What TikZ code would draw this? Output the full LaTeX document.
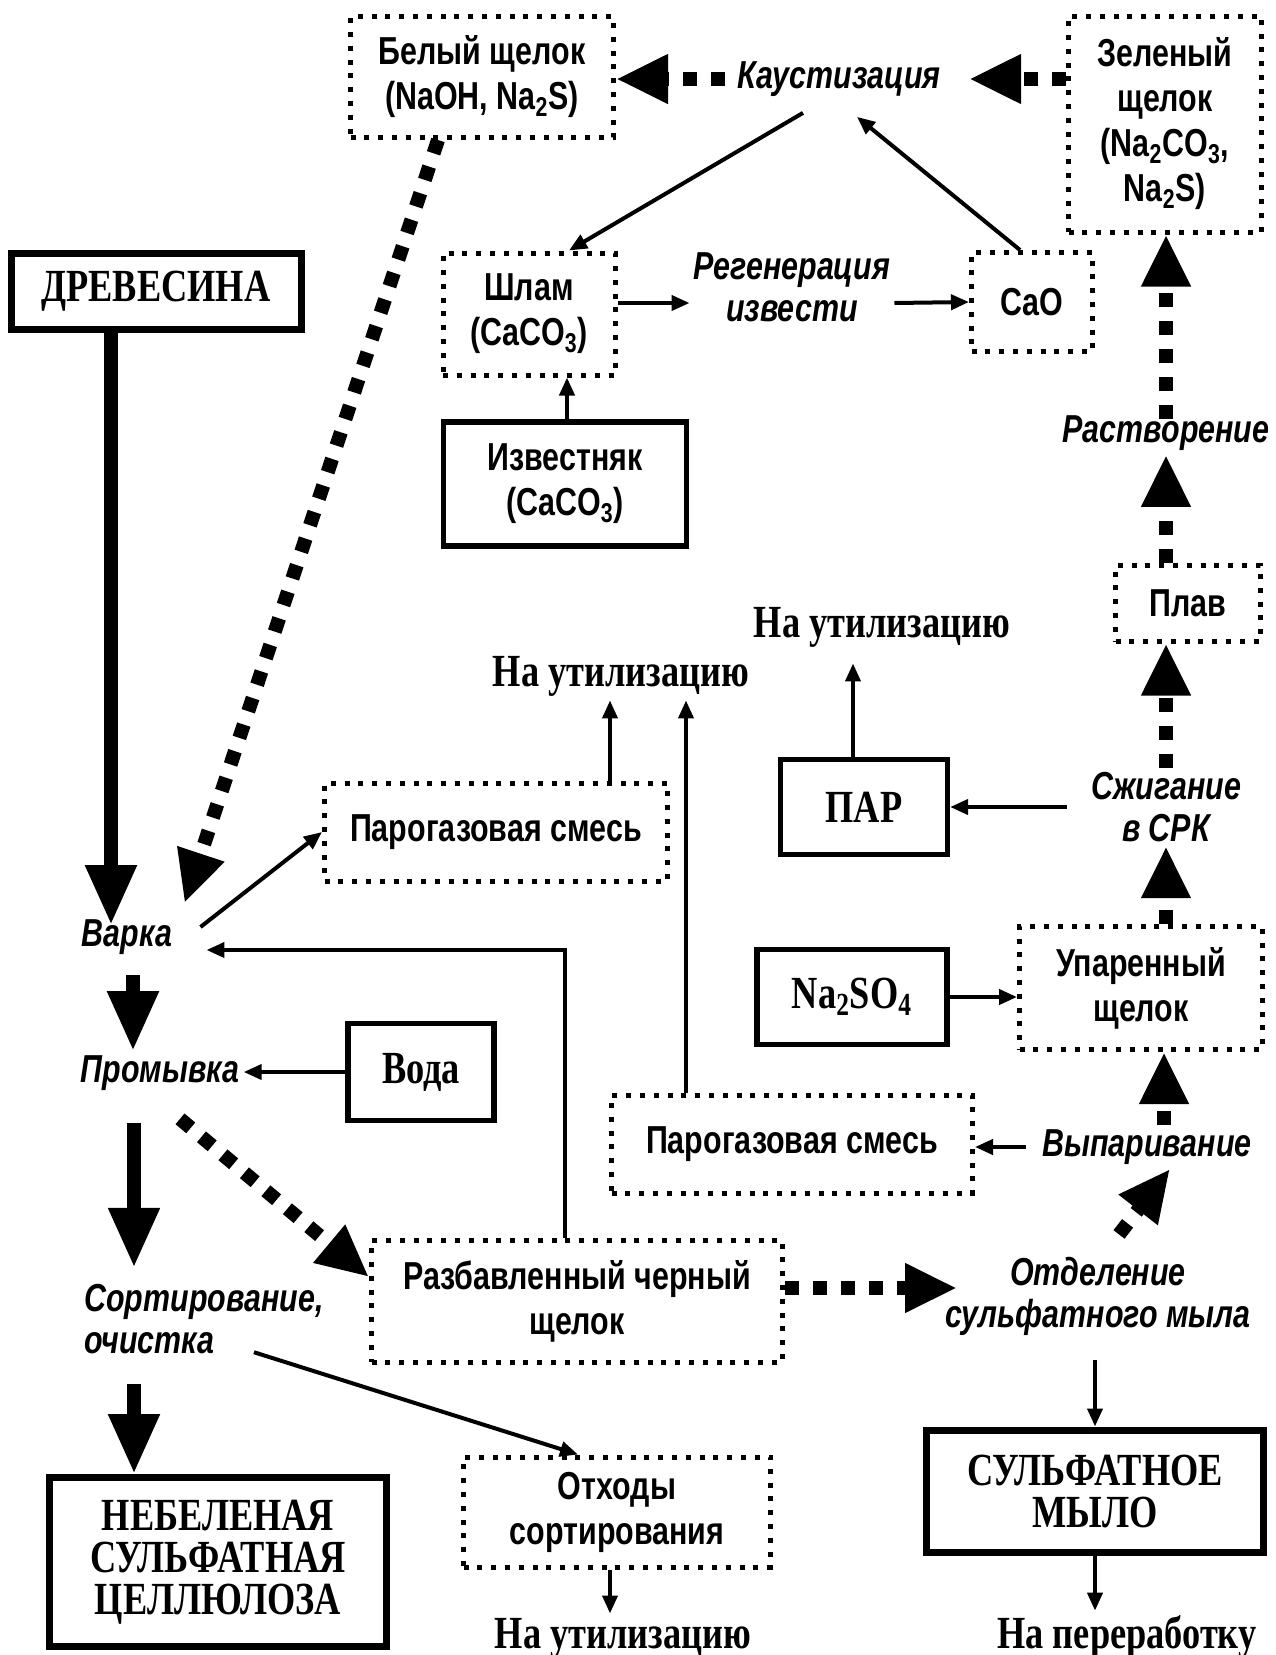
\documentclass[tikz,border=0pt]{standalone}
\usepackage{fontspec}
\setmainfont{Liberation Serif}[FakeStretch=0.79]
\setsansfont{Liberation Sans}[FakeStretch=0.78]
\usepackage{tikz}
\usetikzlibrary{arrows.meta}

\tikzset{
  dotbox/.style={draw, line width=2.5pt, dash pattern=on 2.5pt off 4.4pt, inner sep=0pt, align=center,
    font=\sffamily\bfseries\fontsize{19.5}{22.5}\selectfont},
  linebox/.style={draw, line width=2.6pt, inner sep=0pt, align=center,
    font=\rmfamily\bfseries\fontsize{23}{21}\selectfont},
  mainbox/.style={linebox, line width=3.5pt},
  proc/.style={inner sep=2pt, align=center, font=\sffamily\bfseries\itshape\fontsize{19.5}{21}\selectfont},
  dest/.style={inner sep=2pt, font=\rmfamily\bfseries\fontsize{23}{21}\selectfont},
  thinarrow/.style={line width=2pt, -{Triangle[length=9pt,width=7.5pt]}},
  bigarrow/.style={line width=7pt, -{Triangle[length=30pt,width=24pt]}},
  dotarrow/.style={line width=7pt, dash pattern=on 7pt off 7pt, -{Triangle[length=26pt,width=23pt]}}
}

\begin{document}
\begin{tikzpicture}[x=0.5pt,y=-0.5pt]
    \useasboundingbox (0,0) rectangle (1275,1655);

    % Liquor regeneration at the top
    \node[dotbox, minimum width=131.5pt, minimum height=60.5pt] (white) at (482,77) {Белый щелок\\(NaOH, Na\textsubscript{2}S)};
    \node[proc] (kaust) at (839,79) {Каустизация};
    \node[dotbox, minimum width=96.5pt, minimum height=108pt] (green) at (1165,124) {Зеленый\\щелок\\(Na\textsubscript{2}CO\textsubscript{3},\\Na\textsubscript{2}S)};
    \node[dotbox, minimum width=86pt, minimum height=61pt] (shlam) at (529,314) {Шлам\\(CaCO\textsubscript{3})};
    \node[proc] (regen) at (792,287) {Регенерация\\извести};
    \node[dotbox, minimum width=60.5pt, minimum height=49.5pt] (cao) at (1032,302) {CaO};
    \node[linebox, font=\sffamily\bfseries\fontsize{19.5}{22.5}\selectfont, minimum width=121.5pt, minimum height=62pt] (izv) at (565,484) {Известняк\\(CaCO\textsubscript{3})};

    % Wood and cooking
    \node[mainbox, minimum width=145pt, minimum height=38pt] (wood) at (156,291) {ДРЕВЕСИНА};
    \node[proc] (varka) at (127,937) {Варка};
    \node[dotbox, minimum width=171.5pt, minimum height=49pt] (gas1) at (496,832) {Парогазовая смесь};
    \node[dest] (util1) at (621,676) {На утилизацию};
    \node[dest] (util2) at (882,627) {На утилизацию};
    \node[linebox, minimum width=83.5pt, minimum height=47.5pt] (par) at (864,807) {ПАР};

    % Right column
    \node[proc] (burn) at (1166,807) {Сжигание\\в СРК};
    \node[dotbox, minimum width=72.5pt, minimum height=38pt] (plav) at (1188,603) {Плав};
    \node[proc] (dissolve) at (1166,433) {Растворение};
    \node[dotbox, minimum width=121.5pt, minimum height=61.5pt] (upar) at (1141,988) {Упаренный\\щелок};
    \node[linebox, minimum width=95pt, minimum height=47.5pt] (nasulf) at (852,997) {Na\textsubscript{2}SO\textsubscript{4}};
    \node[proc] (vypar) at (1147,1147) {Выпаривание};
    \node[dotbox, minimum width=180.5pt, minimum height=49pt] (gas2) at (792,1144) {Парогазовая смесь};

    % Washing, sorting and products
    \node[proc] (prom) at (160,1073) {Промывка};
    \node[linebox, minimum width=73pt, minimum height=48.5pt] (voda) at (421,1072) {Вода};
    \node[dotbox, minimum width=205.5pt, minimum height=61pt] (black) at (577,1301) {Разбавленный черный\\щелок};
    \node[proc] (sep) at (1098,1296) {Отделение\\сульфатного мыла};
    \node[proc, align=left, anchor=west] (sort) at (80,1319) {Сортирование,\\очистка};
    \node[mainbox, minimum width=168.5pt, minimum height=84.5pt] (pulp) at (218,1562) {НЕБЕЛЕНАЯ\\СУЛЬФАТНАЯ\\ЦЕЛЛЮЛОЗА};
    \node[dotbox, minimum width=153.5pt, minimum height=55pt] (waste) at (617,1512) {Отходы\\сортирования};
    \node[dest, anchor=base] (util3) at (623,1648) {На утилизацию};
    \node[mainbox, minimum width=168.5pt, minimum height=61pt] (soap) at (1095,1491) {СУЛЬФАТНОЕ\\МЫЛО};
    \node[dest, anchor=base] (rework) at (1127,1648) {На переработку};
    \coordinate (lane) at (134,1000);

    % Arrows of the lime cycle
    \draw[dotarrow] ([xshift=-4pt]kaust.west) -- (white.east |- kaust.west);
    \draw[dotarrow] (green.west |- kaust.east) -- ([xshift=12pt]kaust.east);
    \draw[thinarrow] ([xshift=-18pt,yshift=-6pt]kaust.south) -- ([xshift=20pt]shlam.north);
    \draw[thinarrow] ([xshift=-6pt]cao.north) -- ([xshift=9pt,yshift=-8pt]kaust.south);
    \draw[thinarrow] ([yshift=5.5pt]shlam.east) -- ([yshift=-8pt]regen.west);
    \draw[thinarrow] ([yshift=-8pt]regen.east) -- (cao.west);
    \draw[thinarrow] ([xshift=1pt]izv.north) -- ([xshift=1pt]izv.north |- shlam.south);

    % Arrows round the cooking
    \draw[bigarrow, shorten >=-5pt] ([xshift=-22.5pt]wood.south) -- ([xshift=-22.5pt]wood.south |- varka.north);
    \draw[dotarrow] ([xshift=-22pt]white.south) -- ([xshift=4pt,yshift=6pt]varka.north east);
    \draw[thinarrow] ([xshift=12pt,yshift=5pt]varka.east) -- (gas1.west);
    \draw[thinarrow] ([xshift=57pt]gas1.north) -- ([xshift=57pt]gas1.north |- util1.south);
    \draw[thinarrow] ([xshift=-53pt]gas2.north) -- ([xshift=-53pt]gas2.north |- util1.south);
    \draw[thinarrow, shorten >=6pt] ([xshift=-5.5pt]par.north) -- ([xshift=-5.5pt]par.north |- util2.south);

    % Arrows of the right column
    \draw[thinarrow] ([xshift=-10pt]burn.west) -- (par.east);
    \draw[dotarrow] (upar.north -| burn.south) -- (burn.south);
    \draw[dotarrow] (burn.north) -- (plav.south -| burn.north);
    \draw[dotarrow] (plav.north -| dissolve.south) -- (dissolve.south);
    \draw[dotarrow, shorten <=-4pt] (dissolve.north) -- (green.south -| dissolve.north);
    \draw[thinarrow] (nasulf.east) -- (upar.west |- nasulf.east);
    \draw[dotarrow] ([xshift=8.5pt]vypar.north) -- ([xshift=8.5pt]vypar.north |- upar.south);
    \draw[thinarrow] ([xshift=-6pt]vypar.west) -- (gas2.east |- vypar.west);

    % Arrows of washing and sorting
    \draw[bigarrow, shorten <=8pt] ([xshift=3pt]varka.south) -- ([xshift=3pt]varka.south |- prom.north);
    \draw[thinarrow] (voda.west) -- (prom.east |- voda.west);
    \draw[thinarrow] ([xshift=-6pt]black.north) |- ([xshift=15pt,yshift=-6.5pt]varka.east);
    \draw[dotarrow] ([xshift=10pt,yshift=-12pt]prom.south) -- ([yshift=12pt]black.west);
    \draw[dotarrow] ([yshift=6.5pt]black.east) -- ([xshift=8pt,yshift=4pt]sep.west);
    \draw[dotarrow] ([xshift=10.5pt,yshift=9pt]sep.north) -- ([xshift=11.5pt]vypar.south);
    \draw[bigarrow, shorten <=14pt, shorten >=6pt] (lane |- prom.south) -- (lane |- sort.north);
    \draw[bigarrow, shorten <=13pt] (lane |- sort.south) -- (lane |- pulp.north);
    \draw[thinarrow] ([xshift=25pt,yshift=3pt]sort.south) -- ([xshift=-19.5pt]waste.north);
    \draw[thinarrow] ([xshift=-3.5pt]waste.south) -- ([xshift=-3.5pt]waste.south |- util3.north);
    \draw[thinarrow, shorten <=10pt] (soap.north |- sep.south) -- (soap.north);
    \draw[thinarrow] (soap.south) -- (soap.south |- rework.north);
\end{tikzpicture}
\end{document}
